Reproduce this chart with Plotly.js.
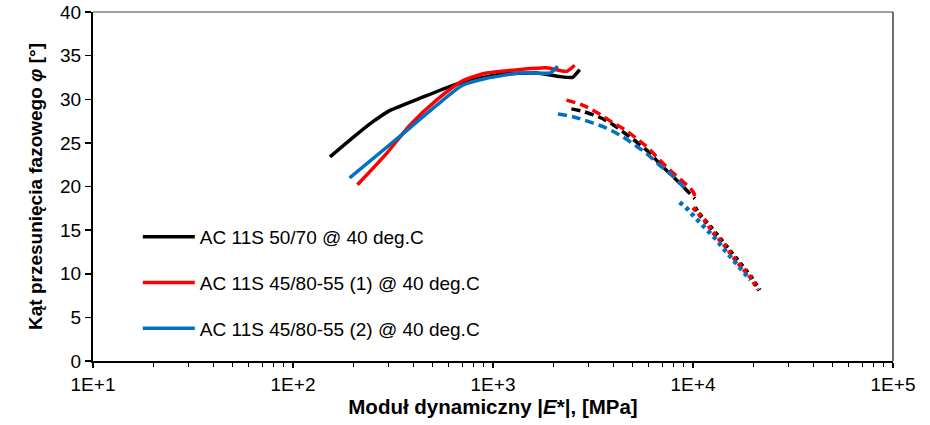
<!DOCTYPE html>
<html>
<head>
<meta charset="utf-8">
<script src="https://cdn.plot.ly/plotly-3.0.1.min.js"></script>
<style>html,body{margin:0;padding:0;background:#fff;}#chart{width:930px;height:425px;}</style>
</head>
<body>
<div id="chart"></div>
<script>
// Series names
const names = ["AC 11S 50/70 @ 40 deg.C", "AC 11S 45/80-55 (1) @ 40 deg.C", "AC 11S 45/80-55 (2) @ 40 deg.C"];
const colors = ["#000000", "#FF0000", "#0070C0"];

// AC 11S 50/70 — solid part
const e5070_solid   = [153, 199, 250, 304, 430, 629, 858, 1117, 1652, 2155, 2500, 2712];
const phi5070_solid = [23.4, 25.6, 27.4, 28.7, 30.1, 31.6, 32.4, 32.9, 33.0, 32.6, 32.5, 33.4];
// AC 11S 50/70 — dashed part
const e5070_dash    = [2466, 2820, 3357, 3917, 4565, 5224, 5972, 6828, 7798, 8913, 10212];
const phi5070_dash  = [28.9, 28.6, 28.0, 27.2, 26.1, 25.1, 24.0, 22.6, 21.3, 20.0, 18.6];
// AC 11S 50/70 — dotted part
const e5070_dot     = [10212, 11035, 12100, 13120, 14060, 15240, 16520, 17900, 19410, 21530];
const phi5070_dot   = [17.6, 16.5, 15.5, 14.5, 13.6, 12.6, 11.7, 10.7, 9.7, 8.1];

// AC 11S 45/80-55 (1) — solid part
const e4580a_solid   = [210, 294, 383, 522, 705, 929, 1360, 1853, 2332, 2560];
const phi4580a_solid = [20.2, 23.8, 27.0, 29.9, 32.1, 33.0, 33.4, 33.6, 33.2, 33.9];
// AC 11S 45/80-55 (1) — dashed part
const e4580a_dash    = [2328, 2820, 3357, 3917, 4565, 5224, 5972, 6828, 7661, 8767, 10010, 10233];
const phi4580a_dash  = [29.9, 29.3, 28.4, 27.4, 26.5, 25.5, 24.4, 23.0, 21.9, 20.7, 19.4, 18.8];
// AC 11S 45/80-55 (1) — dotted part
const e4580a_dot     = [10010, 10800, 11700, 12540, 13590, 14730, 15780, 17100, 18530, 19860, 21040];
const phi4580a_dot   = [17.6, 16.7, 15.9, 14.8, 13.9, 13.0, 12.0, 11.1, 10.2, 9.3, 8.2];

// AC 11S 45/80-55 (2) — solid part
const e4580b_solid   = [192, 294, 383, 522, 705, 929, 1360, 1919, 1986, 2104];
const phi4580b_solid = [21.0, 24.5, 26.7, 29.3, 31.6, 32.4, 33.0, 33.0, 33.2, 33.8];
// AC 11S 45/80-55 (2) — dashed part
const e4580b_dash    = [2113, 2512, 3043, 3686, 4299, 5010, 5845, 6683, 7650, 8578, 9078];
const phi4580b_dash  = [28.3, 28.0, 27.4, 26.7, 25.9, 24.9, 23.8, 22.6, 21.5, 20.4, 19.8];
// AC 11S 45/80-55 (2) — dotted part
const e4580b_dot     = [8578, 9405, 10186, 11035, 12100, 13120, 14060, 15240, 16520, 17900, 19410];
const phi4580b_dot   = [18.2, 17.4, 16.5, 15.7, 14.8, 13.9, 13.0, 12.0, 11.2, 10.2, 9.3];

// Axis ticks
const xTickVals = [10, 100, 1000, 10000, 100000];
const xTickText = ["1E+1", "1E+2", "1E+3", "1E+4", "1E+5"];
const yTickVals = [0, 5, 10, 15, 20, 25, 30, 35, 40];

const font = "Liberation Sans, Arial, sans-serif";
const groups = [
  [e5070_solid, phi5070_solid, e5070_dash, phi5070_dash, e5070_dot, phi5070_dot],
  [e4580a_solid, phi4580a_solid, e4580a_dash, phi4580a_dash, e4580a_dot, phi4580a_dot],
  [e4580b_solid, phi4580b_solid, e4580b_dash, phi4580b_dash, e4580b_dot, phi4580b_dot]
];

const traces = [];
// dotted & dashed first (underneath), then solid
groups.forEach((g, i) => {
  traces.push({x: g[4], y: g[5], mode: "lines", showlegend: false, hoverinfo: "skip",
    line: {color: colors[i], width: 4.5, dash: "4px,4px"}});
});
groups.forEach((g, i) => {
  traces.push({x: g[2], y: g[3], mode: "lines", showlegend: false, hoverinfo: "skip",
    line: {color: colors[i], width: 3.5, dash: "9px,5px", shape: "spline"}});
});
groups.forEach((g, i) => {
  traces.push({x: g[0], y: g[1], mode: "lines", name: names[i], legendgroup: "g" + i,
    line: {color: colors[i], width: 3.5, shape: "spline", smoothing: i === 0 ? 0.35 : 0.6}});
});

const layout = {
  width: 930, height: 425,
  margin: {l: 93, r: 37, t: 12, b: 64},
  paper_bgcolor: "#fff", plot_bgcolor: "#fff",
  font: {family: font, size: 19, color: "#000"},
  showlegend: true,
  legend: {x: 0.056, y: 0.41, xanchor: "left", yanchor: "top", bgcolor: "rgba(0,0,0,0)",
    font: {family: font, size: 19, color: "#000"}, traceorder: "grouped", tracegroupgap: 18,
    itemwidth: 52},
  xaxis: {type: "log", range: [1, 5], tickmode: "array", tickvals: xTickVals, ticktext: xTickText,
    showgrid: false, zeroline: false, showline: true, linecolor: "#000", linewidth: 2,
    ticks: "outside", ticklen: 5, tickwidth: 1.5, tickcolor: "#000",
    minor: {ticks: "outside", ticklen: 4, tickwidth: 1, tickcolor: "#000", dtick: "D1", showgrid: false},
    tickfont: {family: font, size: 19},
    title: {text: "<b>Moduł dynamiczny |<i>E</i>*|, [MPa]</b>", font: {family: font, size: 20.5}, standoff: 4}},
  yaxis: {range: [0, 40], tickmode: "array", tickvals: yTickVals,
    showgrid: false, zeroline: false, showline: true, linecolor: "#000", linewidth: 2,
    ticks: "outside", ticklen: 6, tickwidth: 1.5, tickcolor: "#000",
    tickfont: {family: font, size: 19},
    title: {text: "<b>Kąt przesunięcia fazowego <i>φ</i> [°]</b>", font: {family: font, size: 19}, standoff: 12}},
  shapes: [
    {type: "line", xref: "paper", yref: "paper", x0: 0, x1: 1, y0: 1, y1: 1, line: {color: "#404040", width: 1}},
    {type: "line", xref: "paper", yref: "paper", x0: 1, x1: 1, y0: 0, y1: 1, line: {color: "#404040", width: 1.5}}
  ]
};

Plotly.newPlot("chart", traces, layout, {displayModeBar: false, staticPlot: true});
</script>
</body>
</html>
